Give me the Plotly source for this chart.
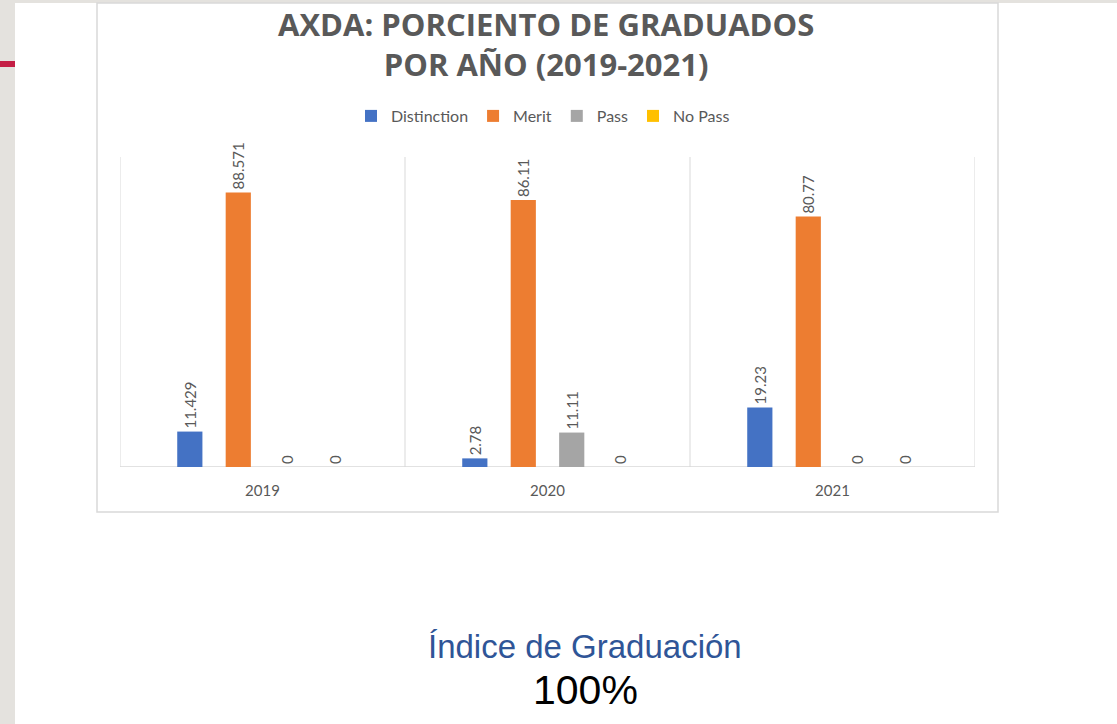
import plotly.graph_objects as go

years = ["2019", "2020", "2021"]
distinction = [11.429, 2.78, 19.23]
merit = [88.571, 86.11, 80.77]
pass_ = [0, 11.11, 0]
no_pass = [0, 0, 0]
distinction_lbl = ["11.429", "2.78", "19.23"]
merit_lbl = ["88.571", "86.11", "80.77"]
pass_lbl = ["0", "11.11", "0"]
no_pass_lbl = ["0", "0", "0"]

W, H = 1117, 724
def px(x):
    return x / W
def py(y):
    return (H - y) / H

series = [
    ("Distinction", distinction, distinction_lbl, "#4472C4"),
    ("Merit", merit, merit_lbl, "#ED7D31"),
    ("Pass", pass_, pass_lbl, "#A5A5A5"),
    ("No Pass", no_pass, no_pass_lbl, "#FFC000"),
]

fig = go.Figure()
for name, vals, lbl, col in series:
    fig.add_trace(go.Bar(
        name=name, x=years, y=vals, text=lbl, textposition="outside",
        textangle=-90, constraintext="none",
        marker=dict(color=col, line=dict(width=0)),
        textfont=dict(family="Lato", size=15, color="#595959"),
        cliponaxis=False,
    ))

shapes = [
    dict(type="rect", xref="paper", yref="paper", x0=0, x1=px(15), y0=0, y1=1,
         fillcolor="#e4e2de", line=dict(width=0), layer="below"),
    dict(type="rect", xref="paper", yref="paper", x0=0, x1=1, y0=py(3), y1=1,
         fillcolor="#e4e2de", line=dict(width=0), layer="below"),
    dict(type="rect", xref="paper", yref="paper", x0=0, x1=px(15), y0=py(67), y1=py(61),
         fillcolor="#c41e45", line=dict(width=0), layer="below"),
    dict(type="rect", xref="paper", yref="paper", x0=px(97), x1=px(998), y0=py(512), y1=py(3),
         fillcolor="rgba(0,0,0,0)", line=dict(color="#d9d9d9", width=1.5), layer="below"),
]
for b in [-0.5, 0.5, 1.5, 2.5]:
    shapes.append(dict(type="line", xref="x", yref="y", x0=b, x1=b, y0=0, y1=100,
                       line=dict(color="#d9d9d9", width=1), layer="below"))
shapes.append(dict(type="line", xref="x", yref="y", x0=-0.5, x1=2.5, y0=0, y1=0,
                   line=dict(color="#d9d9d9", width=1.5), layer="below"))

fig.update_layout(
    width=W, height=H, margin=dict(l=0, r=0, t=0, b=0),
    paper_bgcolor="white", plot_bgcolor="white",
    barmode="group", bargap=0.32, bargroupgap=0.48,
    legend=dict(orientation="h", x=px(543), xanchor="center", y=py(116), yanchor="middle",
                font=dict(family="Lato", size=16, color="#595959"), traceorder="normal",
                itemwidth=30),
    xaxis=dict(domain=[px(120), px(975)], range=[-0.5, 2.5], showgrid=False,
               showline=False, ticks="outside", ticklen=10, tickcolor="rgba(0,0,0,0)",
               tickfont=dict(family="Lato", size=15, color="#595959")),
    yaxis=dict(domain=[py(467), py(157)], range=[0, 100], visible=False),
    shapes=shapes,
    annotations=[
        dict(text="AXDA: PORCIENTO DE GRADUADOS<br>POR AÑO (2019-2021)",
             xref="paper", yref="paper", x=px(546), y=py(44),
             xanchor="center", yanchor="middle", showarrow=False,
             font=dict(family="Open Sans", size=31, color="#595959", weight="bold")),
        dict(text="Índice de Graduación", xref="paper", yref="paper", x=px(585), y=py(646),
             xanchor="center", yanchor="middle", showarrow=False,
             font=dict(family="Liberation Sans", size=33, color="#2F5597")),
        dict(text="100%", xref="paper", yref="paper", x=px(585), y=py(690),
             xanchor="center", yanchor="middle", showarrow=False,
             font=dict(family="Liberation Sans", size=41, color="#000000")),
    ],
    showlegend=True,
)

fig.write_html("out.html", config={"displayModeBar": False},
               post_script="document.body.style.margin='0';document.body.style.padding='0';")
